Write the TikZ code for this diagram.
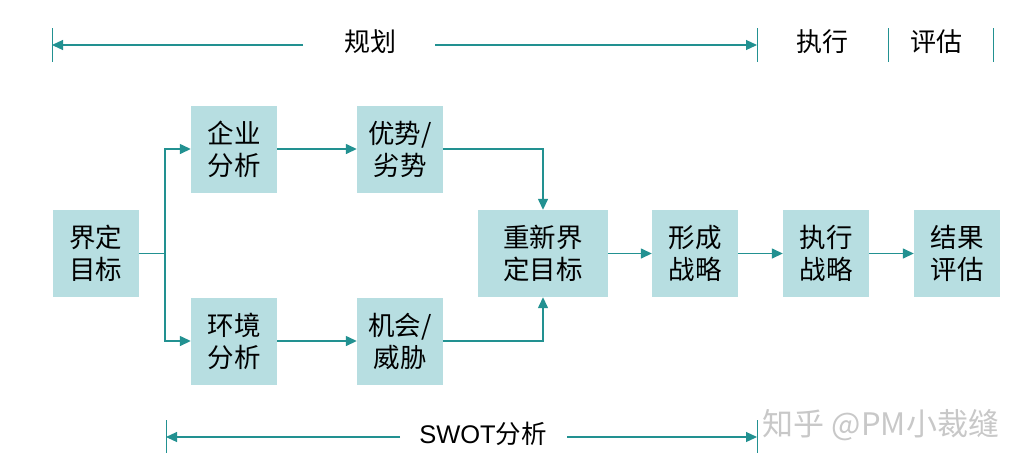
\documentclass[tikz,border=0pt]{standalone}
\usepackage{fontspec}
\setmainfont{Liberation Sans}
\newfontfamily\cjk{Noto Sans CJK SC}
\usetikzlibrary{arrows.meta}
\definecolor{boxfill}{RGB}{183,222,225}
\definecolor{teal}{RGB}{34,145,145}
\definecolor{wm}{RGB}{200,200,200}
\tikzset{
  box/.style={fill=boxfill, minimum width=86pt, minimum height=87pt, inner sep=0pt,
    font=\cjk\fontsize{26.5}{32}\selectfont, align=center, text=black},
  conn/.style={draw=teal, line width=1.4pt, -{Triangle[length=11pt,width=10pt]}},
  plain/.style={draw=teal, line width=1.4pt},
  tick/.style={draw=teal, line width=1pt},
  lbl/.style={font=\cjk\fontsize{26}{30}\selectfont, text=black, inner sep=0pt},
}
\begin{document}
\begin{tikzpicture}[x=1pt,y=-1pt]
\useasboundingbox (0,0) rectangle (1024,467);
% boxes
\node[box] (jd) at (95.5,253.5) {界定\\目标};
\node[box] (qy) at (234,149) {企业\\分析};
\node[box] (ys) at (400,149) {优势/\\劣势};
\node[box] (hj) at (234,341) {环境\\分析};
\node[box] (jh) at (400,341) {机会/\\威胁};
\node[box, minimum width=130pt] (cx) at (543,253.5) {重新界\\定目标};
\node[box] (xc) at (695,253.5) {形成\\战略};
\node[box] (zx) at (826,253.5) {执行\\战略};
\node[box] (jg) at (957,253.5) {结果\\评估};
% connectors
\coordinate (br) at (165,253.5);
\draw[plain] (jd.east) -- (br);
\draw[conn] (br) |- (qy.west);
\draw[conn] (br) |- (hj.west);
\draw[conn] (qy) -- (ys);
\draw[conn] (hj) -- (jh);
\draw[conn] (ys.east) -| (cx.north);
\draw[conn] (jh.east) -| (cx.south);
\draw[conn] (cx) -- (xc);
\draw[conn] (xc) -- (zx);
\draw[conn] (zx) -- (jg);
% top bar
\coordinate (t1a) at (52,28); \coordinate (t1b) at (52,62);
\coordinate (t2a) at (757,28); \coordinate (t2b) at (757,62);
\coordinate (t3a) at (888,28); \coordinate (t3b) at (888,62);
\coordinate (t4a) at (993,28); \coordinate (t4b) at (993,62);
\draw[tick] (t1a) -- (t1b);
\draw[tick] (t2a) -- (t2b);
\draw[tick] (t3a) -- (t3b);
\draw[tick] (t4a) -- (t4b);
\node[lbl] (gh) at (370,42) {规划};
\node[lbl] (zxl) at (822,42) {执行};
\node[lbl] (pg) at (936,42) {评估};
\coordinate (l1) at (52,45); \coordinate (l1e) at (303,45);
\coordinate (r1s) at (435,45); \coordinate (r1) at (757,45);
\draw[conn, line width=1.2pt] (l1e) -- (l1);
\draw[conn, line width=1.2pt] (r1s) -- (r1);
% bottom bar
\coordinate (b1a) at (166,420); \coordinate (b1b) at (166,453);
\coordinate (b2a) at (757,420); \coordinate (b2b) at (757,453);
\draw[tick] (b1a) -- (b1b);
\draw[tick] (b2a) -- (b2b);
\node[lbl, font=\fontsize{25.5}{30}\selectfont] (sw) at (483,434) {SWOT{\cjk 分析}};
\coordinate (bl) at (166,437); \coordinate (ble) at (400,437);
\coordinate (brs) at (567,437); \coordinate (brr) at (757,437);
\draw[conn, line width=1.2pt] (ble) -- (bl);
\draw[conn, line width=1.2pt] (brs) -- (brr);
% watermark
\node[lbl, text=wm, font=\cjk\fontsize{31}{34}\selectfont] (wmk) at (881,425) {知乎 @PM小裁缝};
\end{tikzpicture}
\end{document}
